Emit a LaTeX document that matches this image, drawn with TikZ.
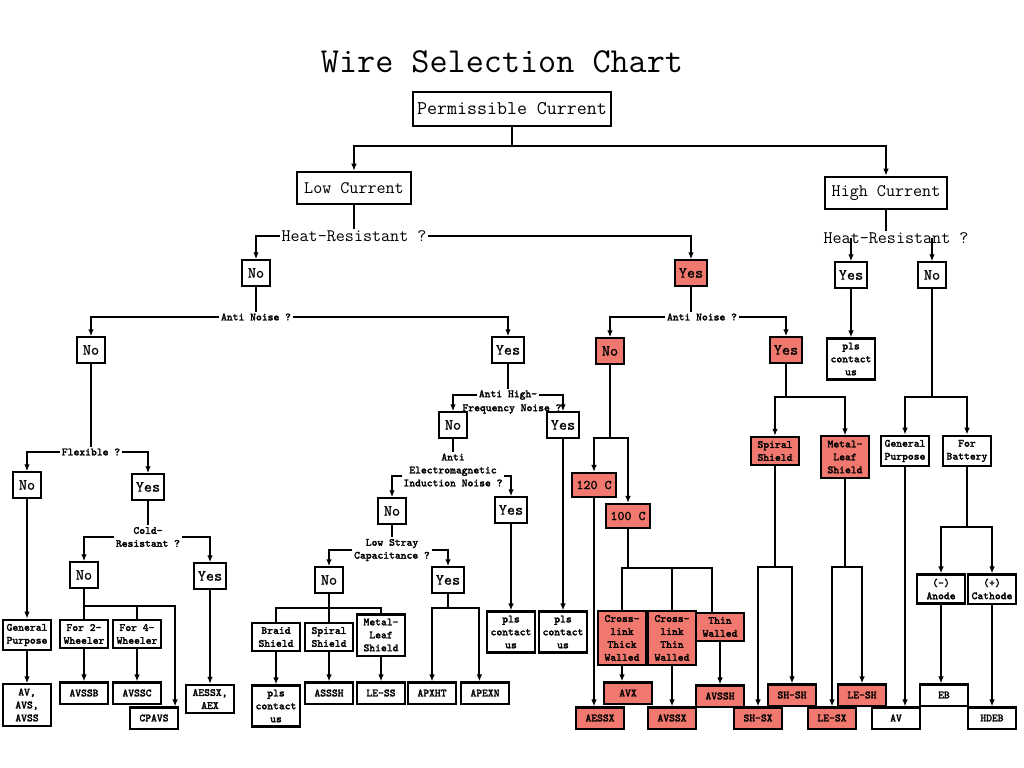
\documentclass[tikz,border=0pt]{standalone}
\usepackage{fontspec}
\newfontfamily\smtt{Latin Modern Mono}[FakeBold=2.2]
\newfontfamily\yntt{Latin Modern Mono}[FakeBold=0.8]
\usetikzlibrary{arrows.meta,positioning,calc}
\definecolor{wirered}{RGB}{240,120,110}

\tikzset{
  box/.style={draw, line width=1.5pt, inner sep=3pt, align=center},
  bigbox/.style={box, font=\ttfamily\fontsize{13.8}{16}\selectfont, minimum height=24pt},
  midbox/.style={box, font=\ttfamily\fontsize{12.5}{15}\selectfont, inner xsep=5pt, minimum height=23pt},
  midtxt/.style={font=\ttfamily\fontsize{12.5}{15}\selectfont, inner sep=1pt},
  yn/.style={box, font=\yntt\fontsize{11}{13}\selectfont, minimum width=20pt, minimum height=18pt},
  sm/.style={box, font=\smtt\fontsize{7.8}{9.2}\selectfont, inner xsep=2pt, inner ysep=3pt, minimum width=34pt, minimum height=15pt},
  deg/.style={box, font=\yntt\fontsize{9.5}{11}\selectfont, minimum width=30pt, minimum height=17pt},
  ask/.style={font=\smtt\fontsize{7.8}{9.2}\selectfont, inner sep=1pt, align=center},
  hot/.style={fill=wirered},
  link/.style={line width=1.5pt},
  arr/.style={link, -{Latex[length=5pt,width=4pt]}},
}

\begin{document}
\begin{tikzpicture}[x=0.025cm, y=-0.025cm]
    \useasboundingbox (0,0) rectangle (1024,768);

    % Title and root
    \node[font=\ttfamily\fontsize{25}{30}\selectfont] (title) at (502,62) {Wire Selection Chart};
    \node[bigbox] (perm) at (512,109) {Permissible Current};
    \node[midbox] (lowc) at (354,188) {Low Current};
    \node[midbox] (highc) at (886,193) {High Current};
    \draw[link] (perm.south) -- ++(0,19) coordinate (pj);
    \draw[arr] (pj) -| (lowc.north);
    \draw[arr] (pj) -| (highc.north);

    % Low current: heat-resistant ?
    \node[midtxt] (hrL) at (354,236) {Heat-Resistant ?};
    \node[yn] (noA) at (256,273) {No};
    \node[yn, hot] (yesA) at (691,273) {Yes};
    \draw[link] (lowc.south) -- (hrL.north);
    \draw[arr] (hrL.west) -| (noA.north);
    \draw[arr] (hrL.east) -| (yesA.north);

    % Not heat-resistant: anti noise ?
    \node[ask] (anL) at (256,317) {Anti Noise ?};
    \node[yn] (noB) at (91,350) {No};
    \node[yn] (yesB) at (508,350) {Yes};
    \draw[link] (noA.south) -- (anL.north);
    \draw[arr] (anL.west) -| (noB.north);
    \draw[arr] (anL.east) -| (yesB.north);

    % Flexible ?
    \node[ask] (flex) at (91,452) {Flexible ?};
    \node[yn] (noF) at (27,485) {No};
    \node[yn] (yesF) at (148,487) {Yes};
    \draw[link] (noB.south) -- (flex.north);
    \draw[arr] (flex.west) -| (noF.north);
    \draw[arr] (flex.east) -| (yesF.north);
    \node[sm] (gp1) at (27,635) {General\\Purpose};
    \node[sm] (avs) at (27,705) {AV,\\AVS,\\AVSS};
    \draw[arr] (noF.south) -- (gp1.north);
    \draw[arr] (gp1.south) -- (avs.north);

    % Cold-resistant ?
    \node[ask] (cold) at (148,537) {Cold-\\Resistant ?};
    \node[yn] (noCo) at (84,575) {No};
    \node[yn] (yesCo) at (210,576) {Yes};
    \draw[link] (yesF.south) -- (cold.north);
    \draw[arr] (cold.west) -| (noCo.north);
    \draw[arr] (cold.east) -| (yesCo.north);
    \node[sm] (w2) at (84,634) {For 2-\\Wheeler};
    \node[sm] (w4) at (137,634) {For 4-\\Wheeler};
    \node[sm] (avssb) at (84,693) {AVSSB};
    \node[sm] (avssc) at (137,693) {AVSSC};
    \node[sm] (cpavs) at (154,718) {CPAVS};
    \node[sm] (aessx1) at (210,699) {AESSX,\\AEX};
    \draw[link] (noCo.south) -- ++(0,17) coordinate (cj);
    \draw[link] (cj) -- (w2.north);
    \draw[link] (cj) -| (w4.north);
    \draw[arr] (cj) -| ([xshift=15pt]cpavs.north);
    \draw[arr] (w2.south) -- (avssb.north);
    \draw[arr] (w4.south) -- (avssc.north);
    \draw[arr] (yesCo.south) -- (aessx1.north);

    % Anti high-frequency noise ?
    \node[ask] (ahfa) at (508,395) {Anti High-};
    \node[ask] (ahfb) at (512,409) {Frequency Noise ?};
    \node[yn] (noAH) at (453,425) {No};
    \node[yn] (yesAH) at (563,425) {Yes};
    \draw[link] (yesB.south) -- (ahfa.north);
    \draw[arr] (ahfa.west) -| (noAH.north);
    \draw[arr] (ahfa.east) -| (yesAH.north);
    \node[sm] (pls3) at (563,632) {pls\\contact\\us};
    \draw[arr] (yesAH.south) -- (pls3.north);

    % Anti electromagnetic induction noise ?
    \node[ask] (em) at (453,470) {Anti\\Electromagnetic\\Induction Noise ?};
    \node[yn] (noEM) at (392,511) {No};
    \node[yn] (yesEM) at (511,510) {Yes};
    \draw[link] (noAH.south) -- (em.north);
    \draw[arr] ([yshift=-4pt]em.west) -| (noEM.north);
    \draw[arr] ([yshift=-4pt]em.east) -| (yesEM.north);
    \node[sm] (pls2) at (511,632) {pls\\contact\\us};
    \draw[arr] (yesEM.south) -- (pls2.north);

    % Low stray capacitance ?
    \node[ask] (lsc) at (392,550) {Low Stray\\Capacitance ?};
    \node[yn] (noL) at (329,580) {No};
    \node[yn] (yesL) at (448,580) {Yes};
    \draw[link] (noEM.south) -- (lsc.north);
    \draw[arr] (lsc.west) -| (noL.north);
    \draw[arr] (lsc.east) -| (yesL.north);
    \node[sm] (braid) at (276,637) {Braid\\Shield};
    \node[sm] (spiral1) at (329,637) {Spiral\\Shield};
    \node[sm] (metal1) at (381,635) {Metal-\\Leaf\\Shield};
    \node[sm] (pls1) at (276,706) {pls\\contact\\us};
    \node[sm] (asssh) at (329,693) {ASSSH};
    \node[sm] (less) at (381,693) {LE-SS};
    \node[sm] (apxht) at (432,693) {APXHT};
    \node[sm] (apexn) at (485,693) {APEXN};
    \draw[link] (noL.south) -- ++(0,14) coordinate (lj);
    \draw[link] (lj) -| (braid.north);
    \draw[link] (lj) -- (spiral1.north);
    \draw[link] (lj) -| (metal1.north);
    \draw[arr] (braid.south) -- (pls1.north);
    \draw[arr] (spiral1.south) -- (asssh.north);
    \draw[arr] (metal1.south) -- (less.north);
    \draw[link] (yesL.south) -- ++(0,14) coordinate (yj);
    \draw[arr] (yj) -| (apxht.north);
    \draw[arr] (yj) -| ([xshift=-4pt]apexn.north);

    % Heat-resistant: anti noise ?
    \node[ask] (anR) at (702,317) {Anti Noise ?};
    \node[yn, hot] (noC) at (610,351) {No};
    \node[yn, hot] (yesC) at (786,350) {Yes};
    \draw[link] (yesA.south) -- (yesA.south |- anR.north);
    \draw[arr] (anR.west) -| (noC.north);
    \draw[arr] (anR.east) -| (yesC.north);

    % No noise: temperature class
    \node[deg, hot] (c120) at (594,485) {120 C};
    \node[deg, hot] (c100) at (628,516) {100 C};
    \node[sm, hot] (aessx2) at (600,718) {AESSX};
    \draw[link] (noC.south) -- ++(0,73) coordinate (nj);
    \draw[arr] (nj) -| (c120.north);
    \draw[arr] (nj) -| (c100.north);
    \draw[arr] (c120.south) -- (c120.south |- aessx2.north);
    \node[sm, hot] (thick) at (622,638) {Cross-\\link\\Thick\\Walled};
    \node[sm, hot] (thin) at (672,638) {Cross-\\link\\Thin\\Walled};
    \node[sm, hot] (thinw) at (720,627) {Thin\\Walled};
    \node[sm, hot] (avx) at (628,693) {AVX};
    \node[sm, hot] (avssx) at (672,718) {AVSSX};
    \node[sm, hot] (avssh) at (720,696) {AVSSH};
    \draw[link] (c100.south) -- ++(0,39) coordinate (hj);
    \draw[link] (hj) -| (thick.north);
    \draw[link] (hj) -| (thin.north);
    \draw[link] (hj) -| ([xshift=-6pt]thinw.north);
    \draw[arr] (thick.south) -- (thick.south |- avx.north);
    \draw[arr] (thin.south) -- (avssx.north);
    \draw[arr] (thinw.south) -- (avssh.north);

    % Noise: shields
    \node[sm, hot] (spiral2) at (775,451) {Spiral\\Shield};
    \node[sm, hot] (metal2) at (845,457) {Metal-\\Leaf\\Shield};
    \draw[link] (yesC.south) -- ++(0,33) coordinate (sj);
    \draw[arr] (sj) -| (spiral2.north);
    \draw[arr] (sj) -| (metal2.north);
    \node[sm, hot] (shsh) at (792,695) {SH-SH};
    \node[sm, hot] (shsx) at (758,718) {SH-SX};
    \node[sm, hot] (lesh) at (862,695) {LE-SH};
    \node[sm, hot] (lesx) at (832,718) {LE-SX};
    \draw[link] (spiral2.south) -- ++(0,101) coordinate (s2j);
    \draw[arr] (s2j) -| (shsx.north);
    \draw[arr] (s2j) -| (shsh.north);
    \draw[link] (metal2.south) -- ++(0,88) coordinate (m2j);
    \draw[arr] (m2j) -| (lesx.north);
    \draw[arr] (m2j) -| (lesh.north);

    % High current
    \node[midtxt] (hrR) at (896,238) {Heat-Resistant ?};
    \node[yn] (yesH) at (851,275) {Yes};
    \node[yn] (noH) at (932,275) {No};
    \node[sm] (plsH) at (851,359) {pls\\contact\\us};
    \draw[link] (highc.south) -- (highc.south |- hrR.north);
    \draw[arr] (hrR.center -| yesH.north) -- (yesH.north);
    \draw[arr] (hrR.center -| noH.north) -- (noH.north);
    \draw[arr] (yesH.south) -- (plsH.north);
    \node[sm] (gp2) at (905,451) {General\\Purpose};
    \node[sm] (batt) at (967,451) {For\\Battery};
    \draw[link] (noH.south) -- ++(0,108) coordinate (hj2);
    \draw[arr] (hj2) -| (gp2.north);
    \draw[arr] (hj2) -| (batt.north);
    \node[sm] (anode) at (941,589) {(–)\\Anode};
    \node[sm] (cathode) at (992,589) {(+)\\Cathode};
    \draw[link] (batt.south) -- ++(0,60) coordinate (bj);
    \draw[arr] (bj) -| (anode.north);
    \draw[arr] (bj) -| (cathode.north);
    \node[sm] (av) at (896,718) {AV};
    \node[sm] (eb) at (944,695) {EB};
    \node[sm] (hdeb) at (992,718) {HDEB};
    \draw[arr] (gp2.south) -- (gp2.south |- av.north);
    \draw[arr] (anode.south) -- (anode.south |- eb.north);
    \draw[arr] (cathode.south) -- (hdeb.north);
\end{tikzpicture}
\end{document}
